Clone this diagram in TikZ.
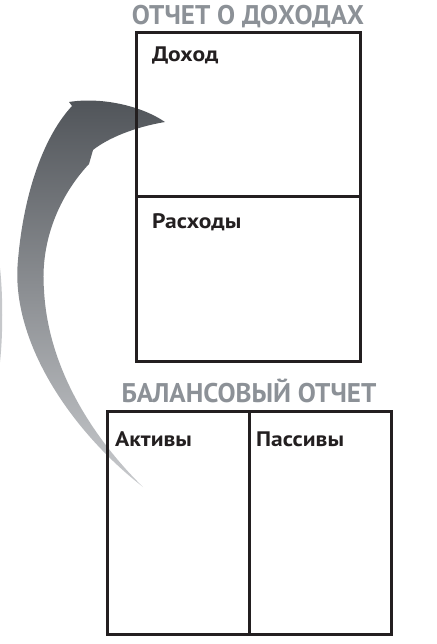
\documentclass[tikz,border=0pt]{standalone}
\usepackage{fontspec}
\setmainfont{PT Sans}[FakeStretch=1.12]
\newfontfamily\titlefont{PT Sans}
\usetikzlibrary{positioning}
\usepackage{xcolor}
\definecolor{boxline}{HTML}{231F20}
\definecolor{titlegray}{HTML}{8C9197}
\definecolor{arrowdark}{HTML}{505459}
\definecolor{arrowlight}{HTML}{C8CACD}

\begin{document}
\begin{tikzpicture}[x=1pt,y=-1pt,
    cell/.style={draw=boxline, line width=3pt, inner sep=0pt, outer sep=0pt},
    sheettitle/.style={font=\titlefont\bfseries\fontsize{27}{27}\selectfont, text=titlegray, anchor=base, inner sep=0pt},
    field/.style={font=\bfseries\fontsize{21}{21}\selectfont, text=boxline, anchor=base west, inner sep=0pt}]
    \useasboundingbox (0,0) rectangle (436,644);
    \fill[titlegray!50] (0,268) .. controls (3,295) and (3,335) .. (0,362) -- cycle;
    \shade[top color=arrowdark, bottom color=arrowlight]
        (143,487) .. controls (70,430) and (10,340) .. (18,260)
        .. controls (24,190) and (45,135) .. (72,106) -- (69,102)
        .. controls (100,97) and (140,105) .. (165,122)
        .. controls (135,127) and (108,138) .. (93,150) -- (89,164)
        .. controls (60,195) and (40,240) .. (44,290)
        .. controls (48,370) and (95,440) .. (143,487) -- cycle;
    \node[cell, minimum width=224pt, minimum height=164pt] (income) at (248,115) {};
    \node[cell, minimum width=224pt, minimum height=164pt, below=0pt of income] (expenses) {};
    \node[cell, minimum width=142pt, minimum height=223pt] (assets) at (178,522.5) {};
    \node[cell, minimum width=142pt, minimum height=223pt, right=0pt of assets] (liabilities) {};
    \node[sheettitle] (inctitle) at ([yshift=8pt]income.north) {ОТЧЕТ О ДОХОДАХ};
    \node[sheettitle] (baltitle) at ([yshift=9pt]assets.north east) {БАЛАНСОВЫЙ ОТЧЕТ};
    \node[field] (inclabel) at ([xshift=16pt,yshift=-29pt]income.north west) {Доход};
    \node[field] (explabel) at ([xshift=16pt,yshift=-31pt]expenses.north west) {Расходы};
    \node[field] (assetlabel) at ([xshift=8pt,yshift=-35pt]assets.north west) {Активы};
    \node[field] (liablabel) at ([xshift=7pt,yshift=-35pt]liabilities.north west) {Пассивы};
\end{tikzpicture}
\end{document}
